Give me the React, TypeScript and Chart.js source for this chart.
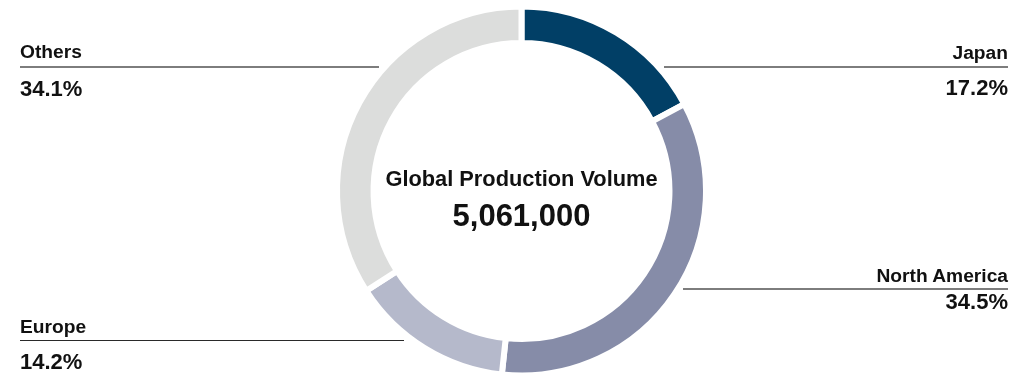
import React, { useEffect, useRef } from "react";
import { Chart, registerables } from "chart.js";

Chart.register(...registerables);

const regions = ["Japan", "North America", "Europe", "Others"];
const shares = [17.2, 34.5, 14.2, 34.1];
const colors = ["#013f66", "#868ca8", "#b5b9cb", "#dcdddc"];
const centerTitle = "Global Production Volume";
const centerValue = "5,061,000";

// callout layout (not data)
const callouts = [
  { side: "right", lineY: 67, x1: 664, x2: 1008, nameBase: 59, pctBase: 96, lineColor: "#7d7d7d", lineW: 2 },
  { side: "right", lineY: 288.5, x1: 683, x2: 1008, nameBase: 282, pctBase: 310, lineColor: "#7d7d7d", lineW: 2 },
  { side: "left", lineY: 340.5, x1: 20, x2: 404, nameBase: 333, pctBase: 370, lineColor: "#2a2a2a", lineW: 1.3 },
  { side: "left", lineY: 66.5, x1: 20, x2: 379, nameBase: 58.5, pctBase: 96.5, lineColor: "#7d7d7d", lineW: 2 },
];

const FONT = '"Liberation Sans", Arial, Helvetica, sans-serif';
const NAME_SIZE = 19.2;
const PCT_SIZE = 22;

function textTop(baseline: number, size: number) {
  return baseline - 0.8465 * size;
}

export default function App() {
  const ref = useRef<HTMLCanvasElement | null>(null);

  useEffect(() => {
    if (!ref.current) return;
    const chart = new Chart(ref.current, {
      type: "doughnut",
      data: {
        labels: regions,
        datasets: [
          {
            data: shares,
            backgroundColor: colors,
            borderColor: "#ffffff",
            borderWidth: 6,
            radius: 184.5,
            cutout: "80.2%",
          } as any,
        ],
      },
      options: {
        responsive: false,
        animation: false,
        events: [],
        layout: { padding: { left: 9, top: 6, right: 0, bottom: 0 } },
        plugins: {
          legend: { display: false },
          tooltip: { enabled: false },
        },
      },
    });
    return () => chart.destroy();
  }, []);

  const common: React.CSSProperties = {
    position: "absolute",
    fontFamily: FONT,
    fontWeight: 700,
    color: "#111111",
    whiteSpace: "nowrap",
    lineHeight: 1,
  };

  return (
    <div style={{ position: "absolute", left: 0, top: 0, width: 1034, height: 376, background: "#fff", overflow: "hidden" }}>
      <canvas ref={ref} width={1034} height={376} style={{ position: "absolute", left: 0, top: 0 }} />
      {callouts.map((c, i) => {
        const right = c.side === "right";
        const pos = right ? { right: 1034 - c.x2 } : { left: c.x1 };
        return (
          <React.Fragment key={i}>
            <div style={{ ...common, ...pos, top: textTop(c.nameBase, NAME_SIZE), fontSize: NAME_SIZE }}>
              {regions[i]}
            </div>
            <div
              style={{
                position: "absolute",
                left: c.x1,
                width: c.x2 - c.x1,
                top: c.lineY - c.lineW / 2,
                height: c.lineW,
                background: c.lineColor,
              }}
            />
            <div style={{ ...common, ...pos, top: textTop(c.pctBase, PCT_SIZE), fontSize: PCT_SIZE }}>
              {shares[i].toFixed(1)}%
            </div>
          </React.Fragment>
        );
      })}
      <div style={{ ...common, left: 321.5, width: 400, textAlign: "center", top: textTop(186, 21.8), fontSize: 21.8 }}>
        {centerTitle}
      </div>
      <div style={{ ...common, left: 321.5, width: 400, textAlign: "center", top: textTop(226, 31), fontSize: 31 }}>
        {centerValue}
      </div>
    </div>
  );
}
